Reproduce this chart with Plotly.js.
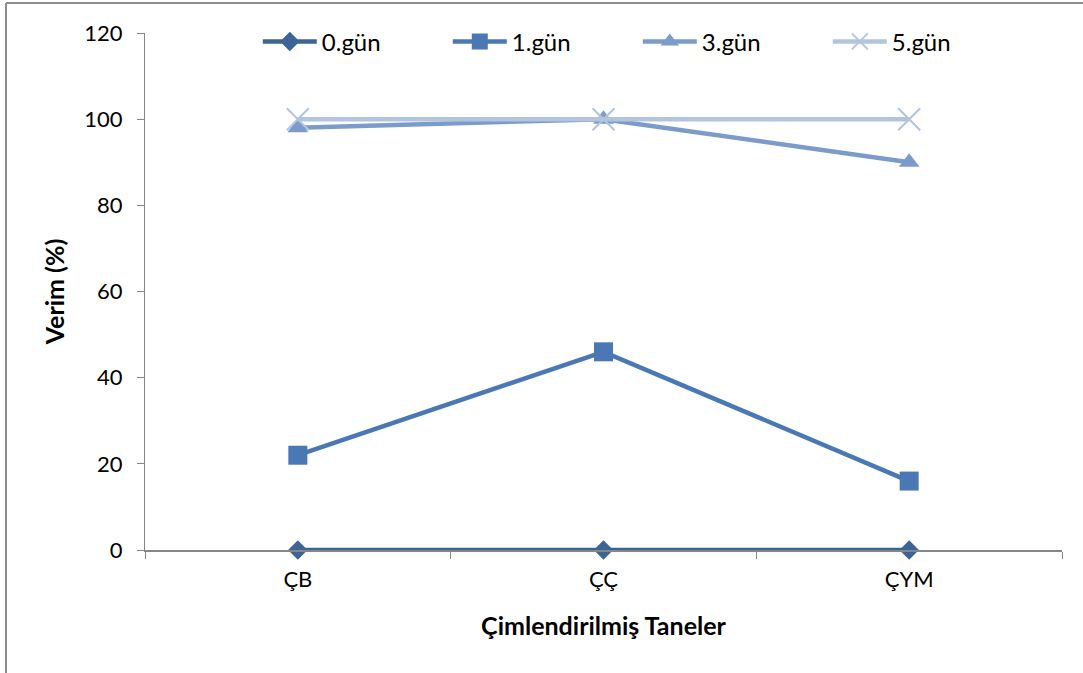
<!DOCTYPE html>
<html>
<head>
<meta charset="utf-8">
<script src="https://cdn.plot.ly/plotly-3.0.1.min.js"></script>
<style>html,body{margin:0;padding:0;background:#fff;}#chart{width:1083px;height:673px;}</style>
</head>
<body>
<div id="chart"></div>
<script>
var categories = ["ÇB", "ÇÇ", "ÇYM"];
var seriesNames = ["0.gün", "1.gün", "3.gün", "5.gün"];
var day0 = [0, 0, 0];
var day1 = [22, 46, 16];
var day3 = [98, 100, 90];
var day5 = [100, 100, 100];
var yTicks = [0, 20, 40, 60, 80, 100, 120];

var FONT = "Lato, 'Open Sans', sans-serif";
var colors = ["#3C6596", "#4A78B5", "#7B9BCB", "#B3C4DE"];

function tr(name, y, color, symbol, size, extra) {
  var m = {symbol: symbol, size: size, color: color, line: {width: 0, color: color}};
  if (extra) m.line = extra;
  return {x: categories, y: y, name: name, type: "scatter", mode: "lines+markers",
    line: {color: color, width: 4.5}, marker: m, cliponaxis: false};
}

var data = [
  tr(seriesNames[0], day0, colors[0], "diamond", 15),
  tr(seriesNames[1], day1, colors[1], "square", 19),
  tr(seriesNames[2], day3, colors[2], "triangle-up", 18),
  tr(seriesNames[3], day5, colors[3], "x-thin", 22, {width: 2, color: colors[3]})
];

var layout = {
  width: 1083, height: 673,
  margin: {l: 145, r: 21, t: 33, b: 123},
  paper_bgcolor: "#fff", plot_bgcolor: "#fff",
  font: {family: FONT, size: 22, color: "#000"},
  showlegend: true,
  legend: {orientation: "h", x: 0.123, xanchor: "left", y: 0.983, yanchor: "middle",
    font: {family: FONT, size: 24, color: "#000"}, entrywidth: 121, itemwidth: 54,
    bgcolor: "rgba(0,0,0,0)"},
  xaxis: {type: "category", showgrid: false, showline: true, linecolor: "#868686", linewidth: 2,
    ticks: "outside", tickson: "boundaries", ticklen: 7, tickcolor: "#868686", tickwidth: 1,
    range: [-0.5, 2.5], zeroline: false, ticklabelstandoff: 9,
    tickfont: {family: FONT, size: 22},
    title: {text: "<b>Çimlendirilmiş Taneler</b>", font: {family: FONT, size: 25}, standoff: 26}},
  yaxis: {range: [0, 120], tickvals: yTicks, showgrid: false, showline: true, linecolor: "#868686", linewidth: 1,
    ticks: "outside", ticklen: 7, tickcolor: "#868686", zeroline: false, ticklabelstandoff: 10,
    tickfont: {family: FONT, size: 22},
    title: {text: "<b>Verim (%)</b>", font: {family: FONT, size: 25}, standoff: 12}},
  shapes: [
    {type: "line", xref: "paper", yref: "paper", x0: -0.1516, x1: -0.1516, y0: 1.058, y1: -0.25, line: {color: "#8c8c8c", width: 2}},
    {type: "line", xref: "paper", yref: "paper", x0: -0.1516, x1: 1.05, y0: 1.058, y1: 1.058, line: {color: "#8c8c8c", width: 2}}
  ]
};

Plotly.newPlot("chart", data, layout, {staticPlot: true, displayModeBar: false});
</script>
</body>
</html>
